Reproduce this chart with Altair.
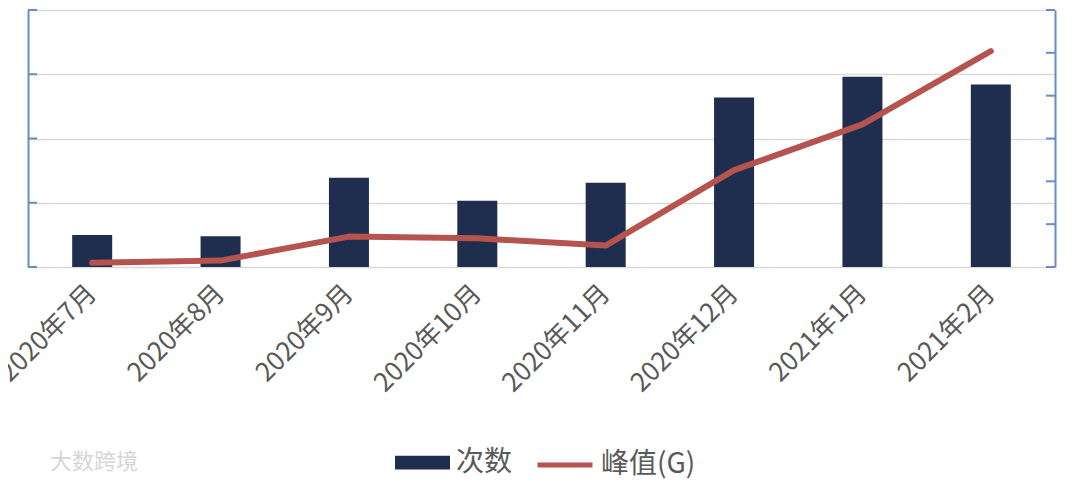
import altair as alt
import pandas as pd

months = ["2020年7月", "2020年8月", "2020年9月", "2020年10月",
          "2020年11月", "2020年12月", "2021年1月", "2021年2月"]
counts = [50, 48, 139, 103, 131, 264, 296, 284]          # 次数 (left axis)
peaks = [1.0, 1.5, 7.1, 6.7, 5.0, 22.6, 33.3, 50.4]       # 峰值(G) (right axis)
left_ticks = [0, 100, 200, 300, 400]
right_ticks = [0, 10, 20, 30, 40, 50, 60]

FONT = "Noto Sans CJK SC"
NAVY = "#1F2D4E"
RED = "#B5544F"
AXIS_BLUE = "#6A8CC4"
GRID = "#D9D9D9"
TEXT = "#595959"
W, H = 1027, 257

df = pd.DataFrame({"month": months, "count": counts, "peak": peaks,
                   "s1": "次数", "s2": "峰值(G)"})
lt = pd.DataFrame({"v": left_ticks})
rt = pd.DataFrame({"v": right_ticks})

lscale = alt.Scale(domain=[0, 400], nice=False)
rscale = alt.Scale(domain=[0, 60], nice=False)

laxis = alt.Axis(title=None, labels=False, ticks=False, values=left_ticks,
                 domainColor=AXIS_BLUE, domainWidth=2,
                 grid=True, gridColor=GRID, gridWidth=1.5)
raxis = alt.Axis(orient="right", title=None, labels=False, ticks=False,
                 grid=False, domainColor=AXIS_BLUE, domainWidth=2)

xenc = alt.X("month:N", sort=months,
             scale=alt.Scale(paddingInner=0, paddingOuter=0),
             axis=alt.Axis(title=None, labelAngle=315, labelFontSize=26,
                           labelColor=TEXT, labelFont=FONT, ticks=False,
                           domain=False, labelPadding=22, labelAlign="right",
                           labelBaseline="middle"))

bars = alt.Chart(df).mark_bar(size=40).encode(
    x=xenc,
    y=alt.Y("count:Q", scale=lscale, axis=laxis),
    color=alt.Color("s1:N", scale=alt.Scale(domain=["次数"], range=[NAVY]),
                    legend=alt.Legend(orient="none", legendX=367, legendY=425,
                                      title=None, symbolType="M-1,-0.25H1V0.25H-1Z",
                                      symbolSize=3025, symbolStrokeWidth=0,
                                      symbolFillColor=NAVY,
                                      labelFontSize=28, labelColor=TEXT,
                                      labelFont=FONT, labelOffset=6, padding=0)),
)

lticks = alt.Chart(lt).mark_rule(color=AXIS_BLUE, strokeWidth=2).encode(
    y=alt.Y("v:Q", scale=lscale, axis=laxis),
    x=alt.value(0), x2=alt.value(9),
)

line = alt.Chart(df).mark_line(strokeWidth=6, strokeCap="round", strokeJoin="round").encode(
    x=alt.X("month:N", sort=months),
    y=alt.Y("peak:Q", scale=rscale, axis=raxis),
    stroke=alt.Stroke("s2:N", scale=alt.Scale(domain=["峰值(G)"], range=[RED]),
                      legend=alt.Legend(orient="none", legendX=507, legendY=425,
                                        title=None, symbolType="stroke",
                                        symbolSize=3025, symbolStrokeWidth=5,
                                        labelFontSize=28, labelColor=TEXT,
                                        labelFont=FONT, labelOffset=6, padding=0)),
)

rticks = alt.Chart(rt).mark_rule(color=AXIS_BLUE, strokeWidth=2).encode(
    y=alt.Y("v:Q", scale=rscale, axis=raxis),
    x=alt.value(W - 9), x2=alt.value(W),
)

mark = alt.Chart(pd.DataFrame({"t": ["大数跨境"]})).mark_text(
    fontSize=22, color="#D6D6D6", align="left", baseline="middle", font=FONT
).encode(text="t:N", x=alt.value(22), y=alt.value(452))

chart = alt.layer(
    alt.layer(bars, lticks),
    alt.layer(line, rticks),
    mark,
).resolve_scale(y="independent").properties(
    width=W, height=H,
    autosize=alt.AutoSizeParams(type="none"),
    padding={"left": 20, "top": 2, "right": 17, "bottom": 214},
).configure_view(stroke=None)

chart.save("out.html", embed_options={"renderer": "svg", "actions": False})
